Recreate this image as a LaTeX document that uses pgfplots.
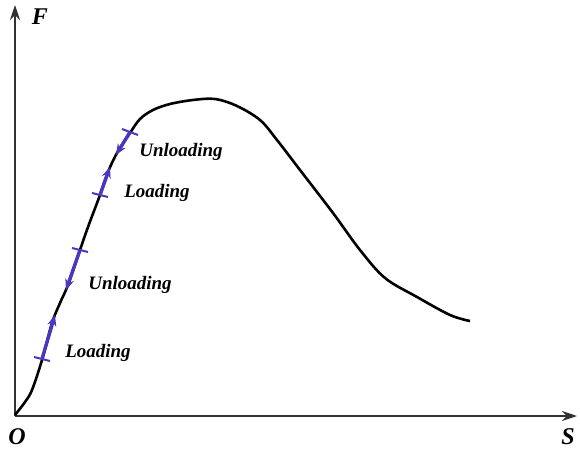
\documentclass[border=0pt]{standalone}
\usepackage{pgfplots}
\pgfplotsset{compat=1.18}
\usepackage{fontspec}
\setmainfont{Liberation Serif}
\usetikzlibrary{arrows.meta}
\definecolor{lblue}{RGB}{72,56,190}
\definecolor{axgray}{RGB}{50,50,50}
\begin{document}
\begin{tikzpicture}
\begin{axis}[
  scale only axis, width=562pt, height=411pt,
  xmin=0, xmax=562, ymin=0, ymax=411,
  axis lines=left,
  axis line style={line width=2pt, color=axgray, -{Stealth[length=15pt,width=10pt]}},
  xtick=\empty, ytick=\empty,
  clip=false,
]
\path (axis cs:-15,-36) rectangle (axis cs:565,416);
% main curve
\addplot[black, line width=2.6pt, smooth, tension=0.55] coordinates {
(0,1) (10,14) (17,26) (27,56) (37,93) (45,113) (53,131) (65,166) (73,189) (85,221)
(93,244) (102,263) (115,283) (125,297) (138,306) (155,312) (178,316) (200,317)
(222,310) (245,296) (262,276) (285,246) (318,203) (345,166) (370,138) (402,119)
(435,101) (455,95)
};
% loading/unloading segments
\addplot[lblue, line width=3.4pt, -{Stealth[length=11pt,width=9pt]}] coordinates {(27,57) (40,101)};
\addplot[lblue, line width=3.4pt, -{Stealth[length=11pt,width=9pt]}] coordinates {(65,166) (51,126)};
\addplot[lblue, line width=3.4pt, -{Stealth[length=11pt,width=9pt]}] coordinates {(85,221) (95,249)};
\addplot[lblue, line width=3.4pt, -{Stealth[length=11pt,width=9pt]}] coordinates {(115,284) (101,261)};
% ticks
\addplot[lblue, line width=2pt] coordinates {(19,59) (35,55)};
\addplot[lblue, line width=2pt] coordinates {(57,168) (73,164)};
\addplot[lblue, line width=2pt] coordinates {(77,223) (93,219)};
\addplot[lblue, line width=2pt] coordinates {(107,287) (123,281)};
% labels
\node[font=\fontsize{19}{19}\selectfont\bfseries\itshape] at (axis cs:83,63) {Loading};
\node[font=\fontsize{19}{19}\selectfont\bfseries\itshape] at (axis cs:115,131) {Unloading};
\node[font=\fontsize{19}{19}\selectfont\bfseries\itshape] at (axis cs:142,223) {Loading};
\node[font=\fontsize{19}{19}\selectfont\bfseries\itshape] at (axis cs:166,264) {Unloading};
\node[font=\fontsize{24}{24}\selectfont\bfseries\itshape] at (axis cs:25,399) {F};
\node[font=\fontsize{24}{24}\selectfont\bfseries\itshape] at (axis cs:553,-21) {S};
\node[font=\fontsize{24}{24}\selectfont\bfseries\itshape] at (axis cs:2,-21) {O};
\end{axis}
\end{tikzpicture}
\end{document}
